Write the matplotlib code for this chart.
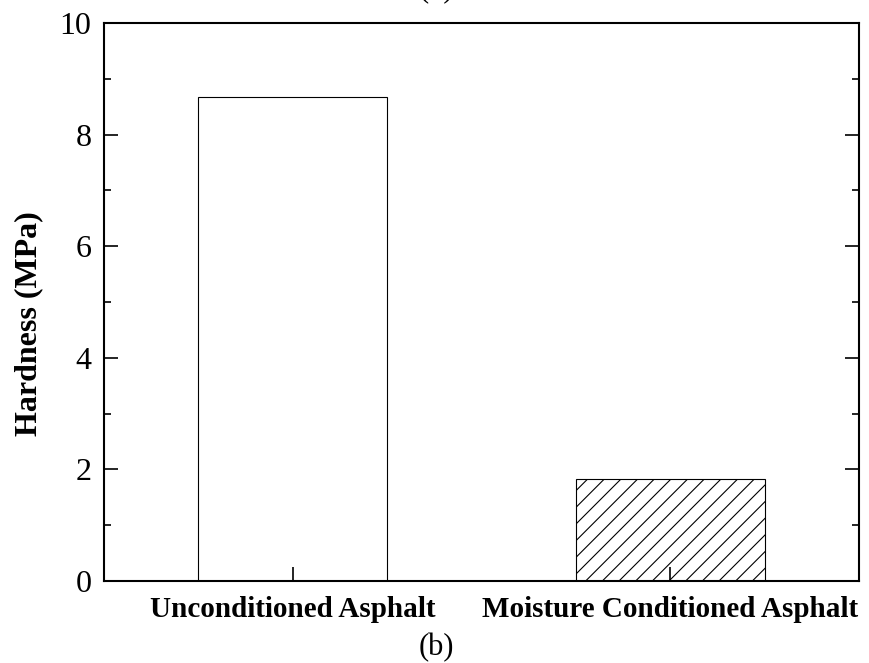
import matplotlib.pyplot as plt
from matplotlib.ticker import MultipleLocator

# data
categories = ["Unconditioned Asphalt", "Moisture Conditioned Asphalt"]
hardness = [8.68, 1.82]
hatches = ["", "//"]

plt.rcParams['font.family'] = ['Liberation Serif', 'DejaVu Serif']
plt.rcParams['hatch.linewidth'] = 0.8

fig = plt.figure(figsize=(8.69, 6.63), dpi=100)
ax = fig.add_axes([0.1197, 0.1237, 0.8688, 0.8416])

x = [1, 2]
for xi, h, hp in zip(x, hardness, hatches):
    ax.bar(xi, h, width=0.5, color="white", edgecolor="black", linewidth=0.8, hatch=hp)

ax.set_xlim(0.5, 2.5)
ax.set_ylim(0, 10)
ax.set_xticks(x)
ax.set_xticklabels(categories, fontsize=21, fontweight="bold")
ax.yaxis.set_major_locator(MultipleLocator(2))
ax.yaxis.set_minor_locator(MultipleLocator(1))
ax.set_ylabel("Hardness (MPa)", fontsize=23, fontweight="bold")
ax.yaxis.set_label_coords(-0.08, 0.462)

ax.tick_params(axis="y", which="major", direction="in", length=10, width=1.2,
               labelsize=23, left=True, right=True, pad=9)
ax.tick_params(axis="y", which="minor", direction="in", length=5, width=1.2,
               left=True, right=True)
ax.tick_params(axis="x", which="major", direction="in", length=10, width=1.2, pad=11)

for s in ax.spines.values():
    s.set_linewidth(1.5)

# panel label (top one clipped by the page edge)
fig.text(0.502, 1.016, "(b)", ha="center", va="center", fontsize=22)
fig.text(0.502, 0.024, "(b)", ha="center", va="center", fontsize=22)

plt.savefig("out.png")
